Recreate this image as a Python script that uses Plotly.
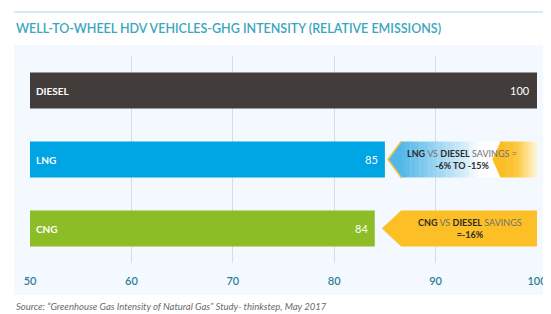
import plotly.graph_objects as go

categories = ["DIESEL", "LNG", "CNG"]
values = [100, 85, 84]
bar_colors = ["#423d3a", "#00a6e3", "#8cbd26"]
tick_vals = [50, 60, 70, 80, 90, 100]
title_text = "WELL-TO-WHEEL HDV VEHICLES-GHG INTENSITY (RELATIVE EMISSIONS)"
source_text = "Source: “Greenhouse Gas Intensity of Natural Gas” Study- thinkstep, May 2017"
lng_note = ("<b>LNG</b> <span style='color:#707070'>VS</span> <b>DIESEL</b> "
            "<span style='color:#707070'>SAVINGS =</span><br><b>-6% TO -15%</b>")
cng_note = ("<b>CNG</b> <span style='color:#707070'>VS</span> <b>DIESEL</b> "
            "<span style='color:#707070'>SAVINGS</span><br><b>=-16%</b>")

FONT = "Lato"
HALF = 0.26

fig = go.Figure()
fig.add_trace(go.Bar(
    y=categories, x=values, base=0, orientation="h",
    marker=dict(color=bar_colors, line=dict(width=0)),
    width=2 * HALF, hoverinfo="skip",
))

shapes = []
# panel background
shapes.append(dict(type="rect", xref="paper", yref="paper", x0=-0.0316, x1=1.0217,
                   y0=-0.155, y1=1.053, fillcolor="#f3f9fe", line=dict(width=0), layer="below"))
# top rule
shapes.append(dict(type="line", xref="paper", yref="paper", x0=-0.0316, x1=1.03,
                   y0=1.2126, y1=1.2126, line=dict(color="#a9d8e3", width=1)))


def hex2rgb(h):
    h = h.lstrip("#")
    return tuple(int(h[i:i + 2], 16) for i in (0, 2, 4))


def lerp(c1, c2, t):
    a, b = hex2rgb(c1), hex2rgb(c2)
    return "rgb(%d,%d,%d)" % tuple(round(a[i] + (b[i] - a[i]) * t) for i in range(3))


def gradient(stops, x0, x1, y0, y1, n=30):
    out = []
    w = (x1 - x0) / n
    for i in range(n):
        xa = x0 + i * w
        xm = xa + w / 2
        col = stops[-1][1]
        for j in range(len(stops) - 1):
            if stops[j][0] <= xm <= stops[j + 1][0]:
                t = (xm - stops[j][0]) / (stops[j + 1][0] - stops[j][0])
                col = lerp(stops[j][1], stops[j + 1][1], t)
                break
        out.append(dict(type="rect", xref="x", yref="y", x0=xa, x1=min(xa + w + 0.03, x1),
                        y0=y0, y1=y1, fillcolor=col, line=dict(width=0), layer="above"))
    return out


def chevron(xt, xc, xe, yc, color):
    return dict(type="path", xref="x", yref="y",
                path=f"M {xt},{yc} L {xc},{yc - HALF} L {xe},{yc - HALF} L {xe},{yc + HALF} L {xc},{yc + HALF} Z",
                fillcolor=color, line=dict(width=0), layer="above")


# LNG callout
yl = 1
shapes.append(chevron(85.3, 86.6, 86.7, yl, "#52b6e9"))
shapes += gradient([(86.6, "#52b6e9"), (92.8, "#d4ecf9"), (94.4, "#ffffff"), (100, "#ffffff")],
                   86.6, 100, yl - HALF, yl + HALF, n=30)
shapes.append(dict(type="path", xref="x", yref="y",
                   path=f"M {86.6},{yl - HALF} L {85.3},{yl} L {86.6},{yl + HALF}",
                   line=dict(color="#f5c342", width=1.5), layer="above"))
shapes.append(chevron(95.6, 96.4, 96.5, yl, "#fbbd22"))
shapes += gradient([(96.4, "#fbbd22"), (98.0, "#fcc637"), (100, "#fff6dc")],
                   96.4, 100, yl - HALF, yl + HALF, n=16)

# CNG callout
yc = 2
shapes.append(chevron(84.7, 86.6, 100, yc, "#fcbf26"))

annotations = [
    dict(text=title_text, xref="paper", yref="paper", x=-0.0316, y=1.135, xanchor="left",
         yanchor="middle", showarrow=False, font=dict(family=FONT, size=12.5, color="#3aa5be", weight=600)),
    dict(text=source_text, xref="paper", yref="paper", x=-0.0316, y=-0.208, xanchor="left",
         yanchor="middle", showarrow=False, font=dict(family=FONT, size=9.5, color="#6a6a6a", style="italic")),
    dict(text=lng_note, xref="x", yref="y", x=92.6, y=yl, showarrow=False, align="center",
         font=dict(family=FONT, size=9, color="#2b2b2b")),
    dict(text=cng_note, xref="x", yref="y", x=93.4, y=yc, showarrow=False, align="center",
         font=dict(family=FONT, size=9, color="#2b2b2b")),
]
for cat, val in zip(categories, values):
    annotations.append(dict(text=f"<b>{cat}</b>", xref="x", yref="y", x=50, y=cat, xanchor="left",
                            xshift=4, showarrow=False, font=dict(family=FONT, size=10, color="white")))
    annotations.append(dict(text=str(val), xref="x", yref="y", x=val, y=cat, xanchor="right",
                            xshift=-5, showarrow=False, font=dict(family=FONT, size=11, color="white")))

# the page body adds an 8px offset; the figure is sized to fill the rest of the window
fig.update_layout(
    width=543, height=306,
    margin=dict(l=22, r=14, t=48, b=51, autoexpand=False),
    paper_bgcolor="white", plot_bgcolor="rgba(0,0,0,0)",
    showlegend=False,
    shapes=shapes, annotations=annotations,
    xaxis=dict(range=[50, 100], tickvals=tick_vals, showgrid=True, gridcolor="#d6dce2", gridwidth=1,
               zeroline=False, showline=False, ticks="", ticklabelstandoff=10, automargin=False,
               tickfont=dict(family=FONT, size=11, color="#2e7f9c", weight=600)),
    yaxis=dict(categoryorder="array", categoryarray=categories, range=[2.5, -0.5], automargin=False,
               showticklabels=False, showgrid=False, zeroline=False, showline=False),
)

fig.write_html("out.html")
